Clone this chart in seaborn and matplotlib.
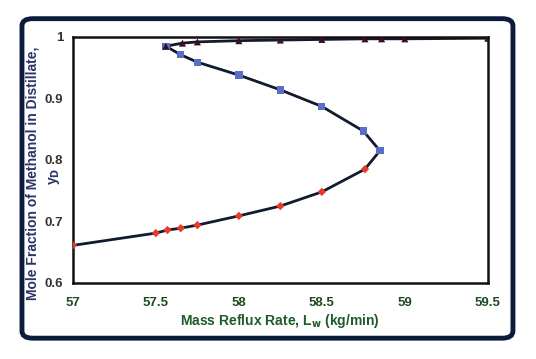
import numpy as np
import pandas as pd
import matplotlib
matplotlib.use("Agg")
import matplotlib.pyplot as plt
from matplotlib.patches import FancyBboxPatch
import seaborn as sns

# top branch (triangles)
tri_x = [57.56, 57.66, 57.75, 58.0, 58.25, 58.5, 58.76, 58.86, 59.0, 59.5]
tri_y = [0.985, 0.990, 0.992, 0.994, 0.995, 0.996, 0.997, 0.997, 0.997, 0.998]
# middle branch (squares)
sq_x = [57.56, 57.65, 57.75, 58.0, 58.25, 58.5, 58.75, 58.85]
sq_y = [0.985, 0.971, 0.959, 0.938, 0.914, 0.887, 0.847, 0.815]
# lower branch (diamonds)
dia_x = [58.76, 58.5, 58.25, 58.0, 57.75, 57.65, 57.57, 57.5, 57.0]
dia_y = [0.785, 0.748, 0.725, 0.709, 0.694, 0.689, 0.686, 0.681, 0.661]

sns.set_style("white")
plt.rcParams['font.family'] = ['Liberation Sans', 'DejaVu Sans']

fig = plt.figure(figsize=(5.36, 3.59), dpi=100)
frame = FancyBboxPatch((0.041, 0.058), 0.916, 0.89, boxstyle="round,pad=0,rounding_size=0.02",
                       transform=fig.transFigure, facecolor='none', edgecolor='#0d1b3d',
                       linewidth=3.5, zorder=0)
fig.patches.append(frame)

ax = fig.add_axes([0.136, 0.212, 0.774, 0.685])
ax.patch.set_alpha(0)

# one continuous curve: triangles (right to left), squares, diamonds
curve = pd.DataFrame({
    'x': tri_x[::-1] + sq_x[1:] + dia_x,
    'y': tri_y[::-1] + sq_y[1:] + dia_y,
})
sns.lineplot(data=curve, x='x', y='y', sort=False, estimator=None, color='#111a2e',
             linewidth=2, ax=ax, zorder=2)

sns.scatterplot(x=sq_x, y=sq_y, marker='s', s=28, color='#5a6fc4', edgecolor='none', ax=ax, zorder=3)
sns.scatterplot(x=dia_x, y=dia_y, marker='D', s=18, color='#e8392a', edgecolor='none', ax=ax, zorder=3)
sns.scatterplot(x=tri_x, y=tri_y, marker='^', s=26, color='#3a0f22', edgecolor='none', ax=ax, zorder=4)

ax.set_xlim(57, 59.5)
ax.set_ylim(0.6, 1.0)
ax.set_xticks([57, 57.5, 58, 58.5, 59, 59.5])
ax.set_xticklabels(['57', '57.5', '58', '58.5', '59', '59.5'])
ax.set_yticks([0.6, 0.7, 0.8, 0.9, 1.0])
ax.set_yticklabels(['0.6', '0.7', '0.8', '0.9', '1'])

for sp in ax.spines.values():
    sp.set_color('#111111')
    sp.set_linewidth(1.8)
ax.tick_params(axis='both', direction='out', length=3, width=1.5, color='#111111',
               labelsize=9.5)
ax.tick_params(axis='x', pad=7)
ax.tick_params(axis='y', pad=4)
for lab in ax.get_xticklabels():
    lab.set_fontweight('bold')
    lab.set_color('#1f4a1f')
for lab in ax.get_yticklabels():
    lab.set_fontweight('bold')
    lab.set_color('#333333')

ax.set_xlabel('Mass Reflux Rate, L$_\\mathbf{w}$ (kg/min)', fontsize=10, fontweight='bold',
              color='#1f5a2a', labelpad=2)
ax.set_ylabel('')
fig.text(33 / 536, 1 - 173 / 359, 'Mole Fraction of Methanol in Distillate,', rotation=90,
         ha='center', va='center', fontsize=10, fontweight='bold', color='#2a3468')
fig.text(54 / 536, 1 - 176 / 359, 'y$_\\mathbf{D}$', rotation=90,
         ha='center', va='center', fontsize=10, fontweight='bold', color='#2a3468')
ax.grid(False)

fig.savefig('out.png', dpi=100)
